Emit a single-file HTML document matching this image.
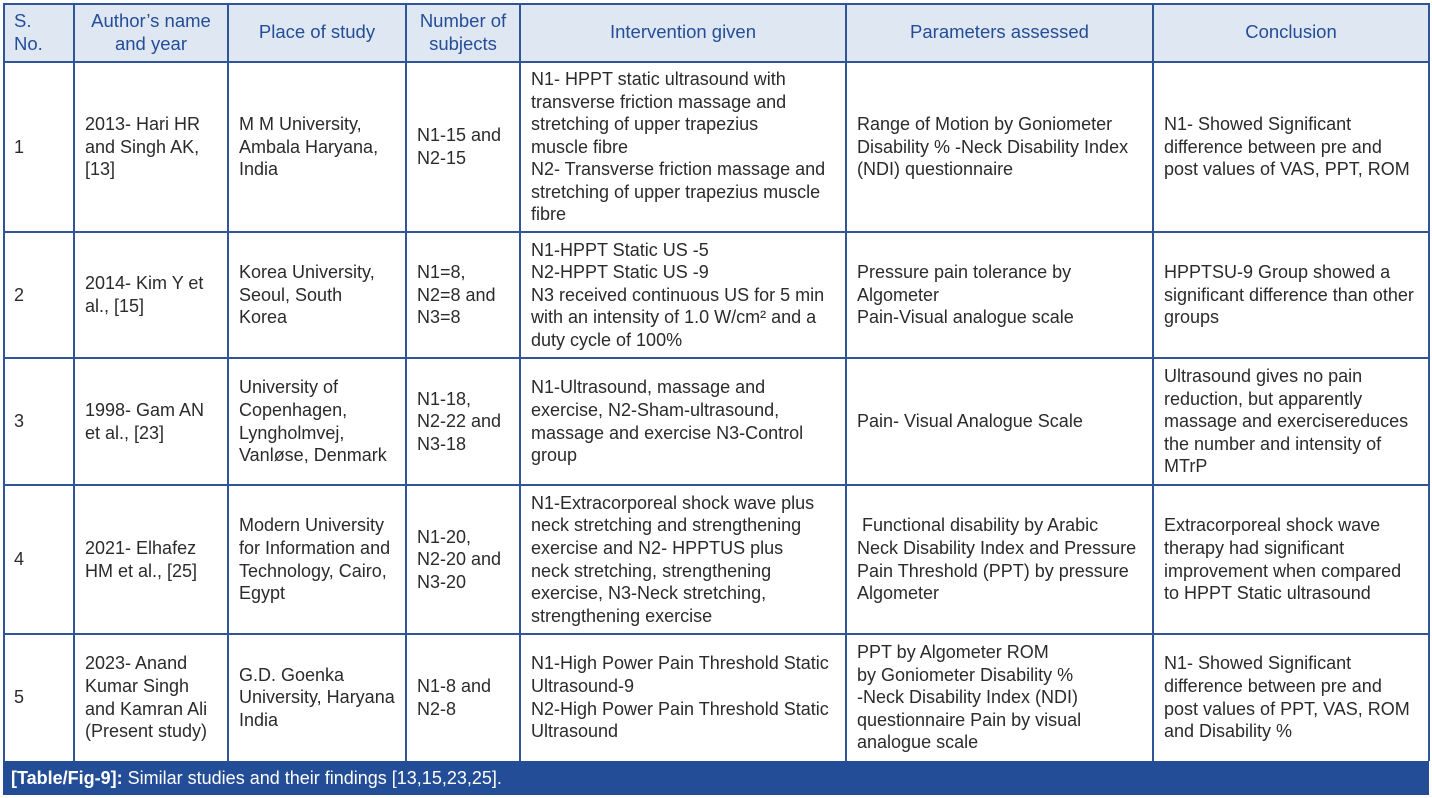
<!DOCTYPE html>
<html><head><meta charset="utf-8"><style>
body{margin:0;width:1432px;height:798px;background:#fff;position:relative;overflow:hidden;font-family:"Liberation Sans",sans-serif}
.c{position:absolute;display:flex;align-items:center;box-sizing:border-box;padding-left:11px;font-size:18px;line-height:22.6px;color:#2b2b2b;white-space:nowrap;letter-spacing:0}
.h{background:#dfe7f3;color:#234e97;font-size:18.5px;justify-content:center;text-align:center;padding-left:0}
.h.l{justify-content:flex-start;text-align:left;padding-left:11px}
.v{position:absolute;background:#2f5596;width:1.5px;top:3px;height:758px}
.hl{position:absolute;background:#2f5596;height:1.5px;left:3px;width:1426px}
.cap{position:absolute;left:3px;top:761px;width:1426px;height:34px;background:#234e97;color:#fff;font-size:18px;line-height:34px;padding-left:8px;box-sizing:border-box}
</style></head><body>
<div class="c h l" style="left:3px;top:3px;width:71px;height:59px">S.<br>No.</div>
<div class="c h" style="left:74px;top:3px;width:154px;height:59px">Author’s name<br>and year</div>
<div class="c h" style="left:228px;top:3px;width:178px;height:59px">Place of study</div>
<div class="c h" style="left:406px;top:3px;width:114px;height:59px">Number of<br>subjects</div>
<div class="c h" style="left:520px;top:3px;width:326px;height:59px">Intervention given</div>
<div class="c h" style="left:846px;top:3px;width:307px;height:59px">Parameters assessed</div>
<div class="c h" style="left:1153px;top:3px;width:276px;height:59px">Conclusion</div>
<div class="c" style="left:3px;top:62px;width:71px;height:170px">1</div>
<div class="c" style="left:74px;top:62px;width:154px;height:170px">2013- Hari HR<br>and Singh AK,<br>[13]</div>
<div class="c" style="left:228px;top:62px;width:178px;height:170px">M M University,<br>Ambala Haryana,<br>India</div>
<div class="c" style="left:406px;top:62px;width:114px;height:170px">N1-15 and<br>N2-15</div>
<div class="c" style="left:520px;top:62px;width:326px;height:170px">N1- HPPT static ultrasound with<br>transverse friction massage and<br>stretching of upper trapezius<br>muscle fibre<br>N2- Transverse friction massage and<br>stretching of upper trapezius muscle<br>fibre</div>
<div class="c" style="left:846px;top:62px;width:307px;height:170px">Range of Motion by Goniometer<br>Disability % -Neck Disability Index<br>(NDI) questionnaire</div>
<div class="c" style="left:1153px;top:62px;width:276px;height:170px">N1- Showed Significant<br>difference between pre and<br>post values of VAS, PPT, ROM</div>
<div class="c" style="left:3px;top:232px;width:71px;height:126px">2</div>
<div class="c" style="left:74px;top:232px;width:154px;height:126px">2014- Kim Y et<br>al., [15]</div>
<div class="c" style="left:228px;top:232px;width:178px;height:126px">Korea University,<br>Seoul, South<br>Korea</div>
<div class="c" style="left:406px;top:232px;width:114px;height:126px">N1=8,<br>N2=8 and<br>N3=8</div>
<div class="c" style="left:520px;top:232px;width:326px;height:126px">N1-HPPT Static US -5<br>N2-HPPT Static US -9<br>N3 received continuous US for 5 min<br>with an intensity of 1.0 W/cm² and a<br>duty cycle of 100%</div>
<div class="c" style="left:846px;top:232px;width:307px;height:126px">Pressure pain tolerance by<br>Algometer<br>Pain-Visual analogue scale</div>
<div class="c" style="left:1153px;top:232px;width:276px;height:126px">HPPTSU-9 Group showed a<br>significant difference than other<br>groups</div>
<div class="c" style="left:3px;top:358px;width:71px;height:127px">3</div>
<div class="c" style="left:74px;top:358px;width:154px;height:127px">1998- Gam AN<br>et al., [23]</div>
<div class="c" style="left:228px;top:358px;width:178px;height:127px">University of<br>Copenhagen,<br>Lyngholmvej,<br>Vanløse, Denmark</div>
<div class="c" style="left:406px;top:358px;width:114px;height:127px">N1-18,<br>N2-22 and<br>N3-18</div>
<div class="c" style="left:520px;top:358px;width:326px;height:127px">N1-Ultrasound, massage and<br>exercise, N2-Sham-ultrasound,<br>massage and exercise N3-Control<br>group</div>
<div class="c" style="left:846px;top:358px;width:307px;height:127px">Pain- Visual Analogue Scale</div>
<div class="c" style="left:1153px;top:358px;width:276px;height:127px">Ultrasound gives no pain<br>reduction, but apparently<br>massage and exercisereduces<br>the number and intensity of<br>MTrP</div>
<div class="c" style="left:3px;top:485px;width:71px;height:149px">4</div>
<div class="c" style="left:74px;top:485px;width:154px;height:149px">2021- Elhafez<br>HM et al., [25]</div>
<div class="c" style="left:228px;top:485px;width:178px;height:149px">Modern University<br>for Information and<br>Technology, Cairo,<br>Egypt</div>
<div class="c" style="left:406px;top:485px;width:114px;height:149px">N1-20,<br>N2-20 and<br>N3-20</div>
<div class="c" style="left:520px;top:485px;width:326px;height:149px">N1-Extracorporeal shock wave plus<br>neck stretching and strengthening<br>exercise and N2- HPPTUS plus<br>neck stretching, strengthening<br>exercise, N3-Neck stretching,<br>strengthening exercise</div>
<div class="c" style="left:846px;top:485px;width:307px;height:149px">&nbsp;Functional disability by Arabic<br>Neck Disability Index and Pressure<br>Pain Threshold (PPT) by pressure<br>Algometer</div>
<div class="c" style="left:1153px;top:485px;width:276px;height:149px">Extracorporeal shock wave<br>therapy had significant<br>improvement when compared<br>to HPPT Static ultrasound</div>
<div class="c" style="left:3px;top:634px;width:71px;height:127px">5</div>
<div class="c" style="left:74px;top:634px;width:154px;height:127px">2023- Anand<br>Kumar Singh<br>and Kamran Ali<br>(Present study)</div>
<div class="c" style="left:228px;top:634px;width:178px;height:127px">G.D. Goenka<br>University, Haryana<br>India</div>
<div class="c" style="left:406px;top:634px;width:114px;height:127px">N1-8 and<br>N2-8</div>
<div class="c" style="left:520px;top:634px;width:326px;height:127px">N1-High Power Pain Threshold Static<br>Ultrasound-9<br>N2-High Power Pain Threshold Static<br>Ultrasound</div>
<div class="c" style="left:846px;top:634px;width:307px;height:127px">PPT by Algometer ROM<br>by Goniometer Disability %<br>-Neck Disability Index (NDI)<br>questionnaire Pain by visual<br>analogue scale</div>
<div class="c" style="left:1153px;top:634px;width:276px;height:127px">N1- Showed Significant<br>difference between pre and<br>post values of PPT, VAS, ROM<br>and Disability %</div>
<div class="v" style="left:3px"></div><div class="v" style="left:73px"></div><div class="v" style="left:227px"></div><div class="v" style="left:405px"></div><div class="v" style="left:519px"></div><div class="v" style="left:845px"></div><div class="v" style="left:1152px"></div><div class="v" style="left:1428px"></div>
<div class="hl" style="top:3px"></div><div class="hl" style="top:61px"></div><div class="hl" style="top:231px"></div><div class="hl" style="top:357px"></div><div class="hl" style="top:484px"></div><div class="hl" style="top:633px"></div>
<div class="cap"><b>[Table/Fig-9]:</b> Similar studies and their findings [13,15,23,25].</div>
</body></html>
